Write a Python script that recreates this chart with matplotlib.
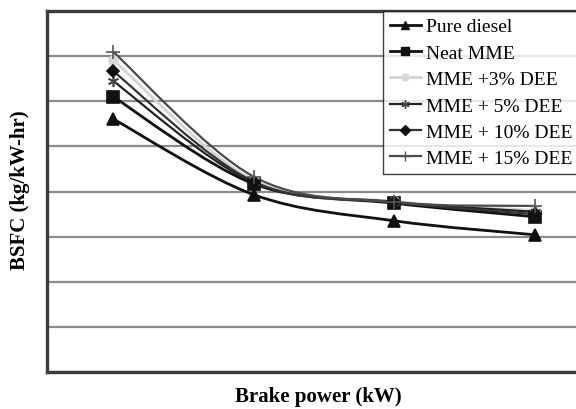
import matplotlib.pyplot as plt
from matplotlib.path import Path
from matplotlib.patches import PathPatch
from matplotlib.lines import Line2D

plt.rcParams['font.family'] = ['Liberation Serif', 'DejaVu Serif']

# brake power steps (no tick labels on the original)
load_steps = [1, 2, 3, 4]

pure_diesel = [5.61, 3.93, 3.35, 3.04]
neat_mme = [6.10, 4.17, 3.74, 3.44]
mme_3 = [6.92, 4.25, 3.78, 3.58]
mme_5 = [6.45, 4.20, 3.77, 3.55]
mme_10 = [6.67, 4.22, 3.76, 3.50]
mme_15 = [7.10, 4.33, 3.76, 3.68]

labels = ["Pure diesel", "Neat MME", "MME +3% DEE", "MME + 5% DEE",
          "MME + 10% DEE", "MME + 15% DEE"]


def smooth_path(xs, ys):
    # Excel-style smoothed line: cubic bezier segments through the points
    pts = list(zip(xs, ys))
    n = len(pts)
    verts = [pts[0]]
    codes = [Path.MOVETO]
    for i in range(n - 1):
        p0 = pts[max(i - 1, 0)]
        p1 = pts[i]
        p2 = pts[i + 1]
        p3 = pts[min(i + 2, n - 1)]
        c1 = (p1[0] + (p2[0] - p0[0]) / 6, p1[1] + (p2[1] - p0[1]) / 6)
        c2 = (p2[0] - (p3[0] - p1[0]) / 6, p2[1] - (p3[1] - p1[1]) / 6)
        verts += [c1, c2, p2]
        codes += [Path.CURVE4] * 3
    return Path(verts, codes)


fig = plt.figure(figsize=(5.76, 4.10), dpi=100)
ax = fig.add_axes([47 / 576, 37 / 410, 554 / 576, 361 / 410])

styles = [
    (pure_diesel, '#111111', '^', 8.5, '#111111', 2.0),
    (neat_mme, '#111111', 's', 8, '#111111', 2.0),
    (mme_3, '#d4d4d4', 'o', 6.5, '#d8d8d8', 2.0),
    (mme_5, '#222222', (6, 2, 0), 8, '#444444', 1.6),
    (mme_10, '#333333', 'D', 6.5, '#111111', 1.6),
    (mme_15, '#4a4a4a', '+', 10, '#555555', 1.6),
]

handles = []
for (vals, lc, mk, ms, mc, lw), lab in zip(styles, labels):
    ax.add_patch(PathPatch(smooth_path(load_steps, vals), fill=False,
                           edgecolor=lc, linewidth=lw, zorder=3))
    ax.plot(load_steps, vals, linestyle='none', marker=mk, markersize=ms,
            color=mc, markeredgewidth=1.2, zorder=4)
    handles.append(Line2D([], [], color=lc, linewidth=lw, marker=mk,
                          markersize=ms * 0.75, markerfacecolor=mc,
                          markeredgecolor=mc))

ax.set_xlim(0.531, 4.469)
ax.set_ylim(0, 8)
ax.set_yticks(range(0, 9))
ax.set_xticks([])
ax.tick_params(axis='y', length=0, labelleft=False)
ax.grid(axis='y', color='#8a8a8a', linewidth=1.6)
ax.set_axisbelow(True)
for sp in ax.spines.values():
    sp.set_color('#3c3c3c')
    sp.set_linewidth(2.4)

fig.text(318 / 576, 1 - 397 / 410, "Brake power (kW)", fontsize=15,
         fontweight='bold', ha='center', va='center')
fig.text(20 / 576, 1 - 190 / 410, "BSFC (kg/kW-hr)", rotation=90,
         fontsize=15, fontweight='bold', ha='center', va='center')

leg = fig.legend(handles=handles, labels=labels, loc='upper left',
                 bbox_to_anchor=(383 / 576, 1 - 12 / 410), fontsize=14,
                 frameon=True, fancybox=False, handlelength=1.6,
                 handletextpad=0.25, labelspacing=0.45, borderpad=0.35,
                 borderaxespad=0)
leg.get_frame().set_edgecolor('#111111')
leg.get_frame().set_linewidth(1.0)

fig.savefig("out.png", dpi=100)
